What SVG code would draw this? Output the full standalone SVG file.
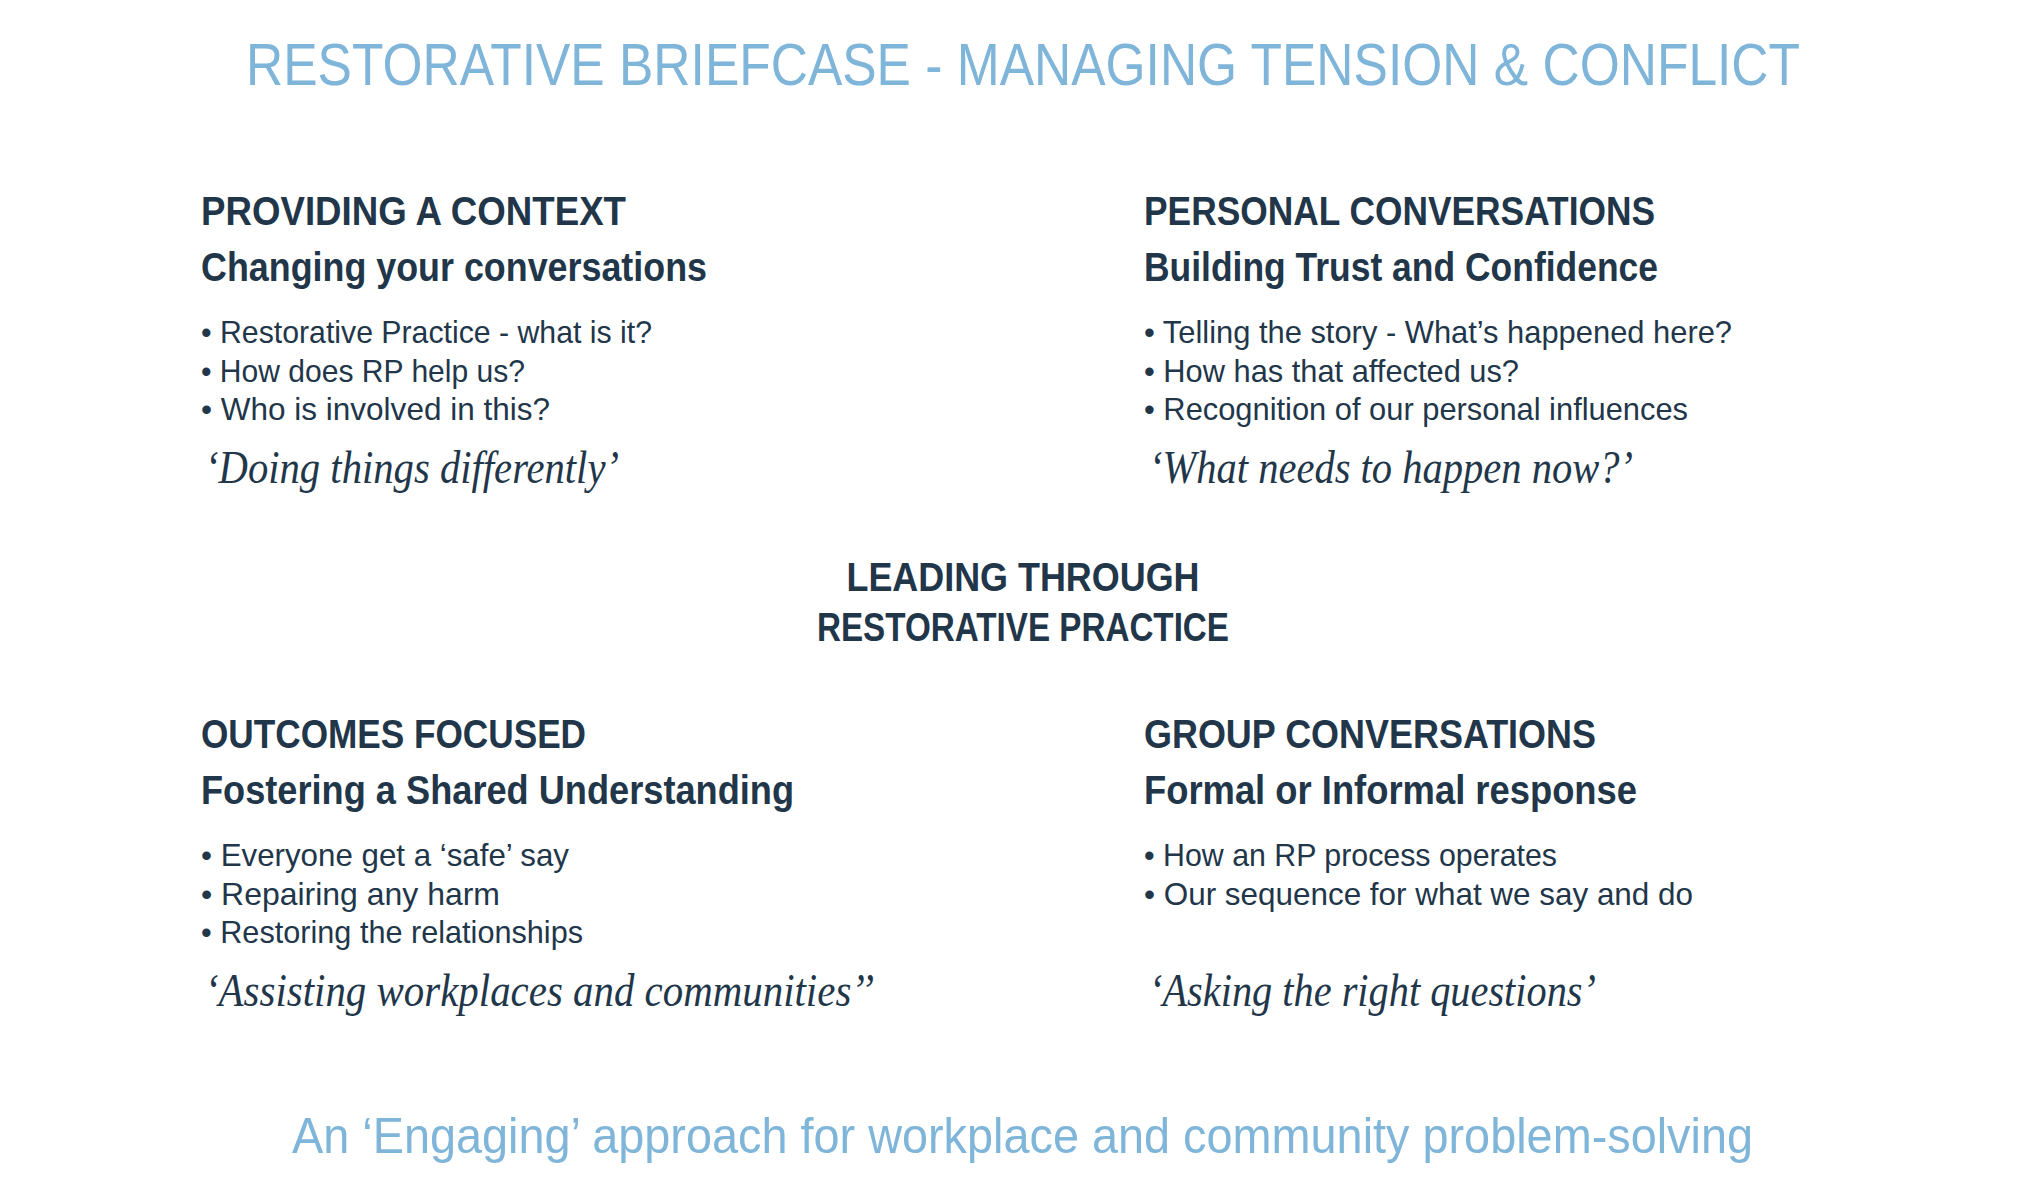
<svg xmlns="http://www.w3.org/2000/svg" width="2040" height="1200" viewBox="0 0 2040 1200">
<style>
.t{font-family:"Liberation Sans",Arial,sans-serif;fill:#7fb5d9}
.h{font-family:"Liberation Sans",Arial,sans-serif;font-weight:bold;fill:#22364a;font-size:40px}
.s{font-family:"Liberation Sans",Arial,sans-serif;font-weight:bold;fill:#22364a;font-size:40px}
.b{font-family:"Liberation Sans",Arial,sans-serif;fill:#22364a;font-size:32px}
.q{font-family:"Liberation Serif","Times New Roman",serif;font-style:italic;fill:#22364a;font-size:46px}
</style>
<rect width="2040" height="1200" fill="#fff"/>
<g transform="translate(-2,-4)">
<text class="t" x="248" y="89" font-size="60" textLength="1554" lengthAdjust="spacingAndGlyphs">RESTORATIVE BRIEFCASE - MANAGING TENSION &amp; CONFLICT</text>
<g id="context">
<text class="h" x="203" y="229" textLength="425" lengthAdjust="spacingAndGlyphs">PROVIDING A CONTEXT</text>
<text class="s" x="203" y="285" textLength="506" lengthAdjust="spacingAndGlyphs">Changing your conversations</text>
<text class="b" x="203" y="347" textLength="451" lengthAdjust="spacingAndGlyphs">• Restorative Practice - what is it?</text>
<text class="b" x="203" y="386" textLength="324" lengthAdjust="spacingAndGlyphs">• How does RP help us?</text>
<text class="b" x="203" y="424" textLength="349" lengthAdjust="spacingAndGlyphs">• Who is involved in this?</text>
<text class="q" x="207" y="487" textLength="414" lengthAdjust="spacingAndGlyphs">‘Doing things differently’</text>
</g>
<g id="personal">
<text class="h" x="1146" y="229" textLength="511" lengthAdjust="spacingAndGlyphs">PERSONAL CONVERSATIONS</text>
<text class="s" x="1146" y="285" textLength="514" lengthAdjust="spacingAndGlyphs">Building Trust and Confidence</text>
<text class="b" x="1146" y="347" textLength="588" lengthAdjust="spacingAndGlyphs">• Telling the story - What’s happened here?</text>
<text class="b" x="1146" y="386" textLength="375" lengthAdjust="spacingAndGlyphs">• How has that affected us?</text>
<text class="b" x="1146" y="424" textLength="544" lengthAdjust="spacingAndGlyphs">• Recognition of our personal influences</text>
<text class="q" x="1151" y="487" textLength="484" lengthAdjust="spacingAndGlyphs">‘What needs to happen now?’</text>
</g>
<g id="center">
<text class="h" x="1025" y="595" text-anchor="middle" textLength="353" lengthAdjust="spacingAndGlyphs">LEADING THROUGH</text>
<text class="h" x="1025" y="645" text-anchor="middle" textLength="412" lengthAdjust="spacingAndGlyphs">RESTORATIVE PRACTICE</text>
</g>
<g id="outcomes">
<text class="h" x="203" y="752" textLength="385" lengthAdjust="spacingAndGlyphs">OUTCOMES FOCUSED</text>
<text class="s" x="203" y="808" textLength="593" lengthAdjust="spacingAndGlyphs">Fostering a Shared Understanding</text>
<text class="b" x="203" y="870" textLength="368" lengthAdjust="spacingAndGlyphs">• Everyone get a ‘safe’ say</text>
<text class="b" x="203" y="909" textLength="299" lengthAdjust="spacingAndGlyphs">• Repairing any harm</text>
<text class="b" x="203" y="947" textLength="382" lengthAdjust="spacingAndGlyphs">• Restoring the relationships</text>
<text class="q" x="207" y="1010" textLength="669" lengthAdjust="spacingAndGlyphs">‘Assisting workplaces and communities’’</text>
</g>
<g id="group">
<text class="h" x="1146" y="752" textLength="452" lengthAdjust="spacingAndGlyphs">GROUP CONVERSATIONS</text>
<text class="s" x="1146" y="808" textLength="493" lengthAdjust="spacingAndGlyphs">Formal or Informal response</text>
<text class="b" x="1146" y="870" textLength="413" lengthAdjust="spacingAndGlyphs">• How an RP process operates</text>
<text class="b" x="1146" y="909" textLength="549" lengthAdjust="spacingAndGlyphs">• Our sequence for what we say and do</text>
<text class="q" x="1151" y="1010" textLength="447" lengthAdjust="spacingAndGlyphs">‘Asking the right questions’</text>
</g>
<g id="connectors"/>
<text class="t" x="294" y="1157" font-size="50" textLength="1461" lengthAdjust="spacingAndGlyphs">An ‘Engaging’ approach for workplace and community problem-solving</text>
</g>
</svg>
